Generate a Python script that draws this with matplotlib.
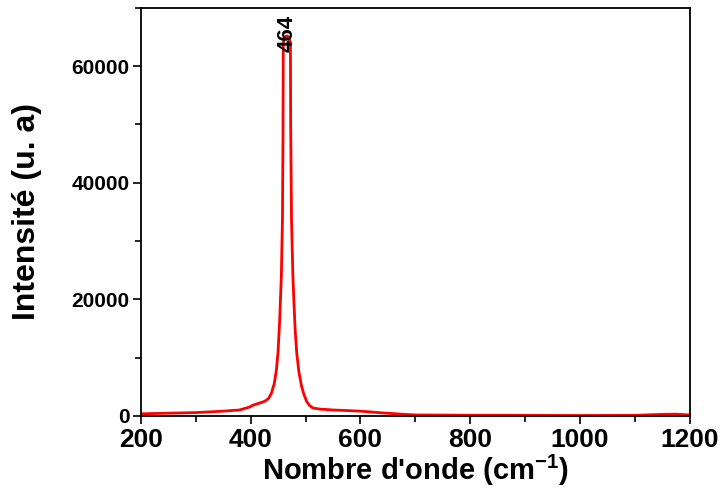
import matplotlib.pyplot as plt

plt.rcParams['font.family'] = ['Liberation Sans', 'DejaVu Sans']
plt.rcParams['font.weight'] = 'bold'
plt.rcParams['mathtext.default'] = 'regular'
plt.rcParams['axes.unicode_minus'] = False

# Raman spectrum
wavenumber = [200, 250, 300, 350, 380, 398, 405, 415, 426, 433, 438, 443, 447,
              450, 453, 456, 458, 459, 459.5, 462, 466, 470, 472.5, 473, 474.5,
              477, 479, 481, 484, 488, 493, 497, 502, 507, 513, 526, 550,
              600, 640, 680, 700, 800, 900, 1000, 1100, 1150, 1175, 1200]
intensity = [340, 450, 550, 800, 1000, 1500, 1850, 2150, 2500, 3000, 3900, 5500, 7900,
             11000, 16500, 24000, 33700, 48000, 64000, 65000, 65200, 65000, 64000, 50000, 33700,
             24000, 19400, 15000, 10800, 7500, 5000, 3700, 2500, 1800, 1350, 1150, 1000,
             800, 500, 250, 150, 100, 80, 50, 80, 250, 280, 150]
peak_label = 464

fig, ax = plt.subplots(figsize=(7.26, 4.95), dpi=100)
fig.subplots_adjust(left=0.194, right=0.950, top=0.984, bottom=0.160)

ax.plot(wavenumber, intensity, color='red', linewidth=2.0)
ax.text(peak_label + 2.5, 62400, str(peak_label), rotation=90, ha='center', va='bottom',
        fontsize=16, fontweight='bold')

ax.set_xlim(200, 1200)
ax.set_ylim(0, 70000)
ax.set_xticks([200, 400, 600, 800, 1000, 1200])
ax.set_xticks(range(300, 1200, 200), minor=True)
ax.set_yticks([0, 20000, 40000, 60000])
ax.set_yticks([10000, 30000, 50000, 70000], minor=True)
ax.tick_params(axis='x', labelsize=19, direction='out', length=6, width=1.2, pad=3)
ax.tick_params(axis='y', labelsize=15, direction='out', length=6, width=1.2, pad=2)
ax.tick_params(which='minor', direction='out', length=4, width=1.2)
for lab in ax.get_xticklabels() + ax.get_yticklabels():
    lab.set_fontweight('bold')
for s in ax.spines.values():
    s.set_linewidth(1.3)

ax.set_xlabel('Nombre d\'onde (cm$^{-1}$)', fontsize=21, fontweight='bold', labelpad=0)
ax.set_ylabel('Intensité (u. a)', fontsize=23, fontweight='bold')
ax.yaxis.set_label_coords(-0.18, 0.5)

fig.savefig('out.png', dpi=100)
